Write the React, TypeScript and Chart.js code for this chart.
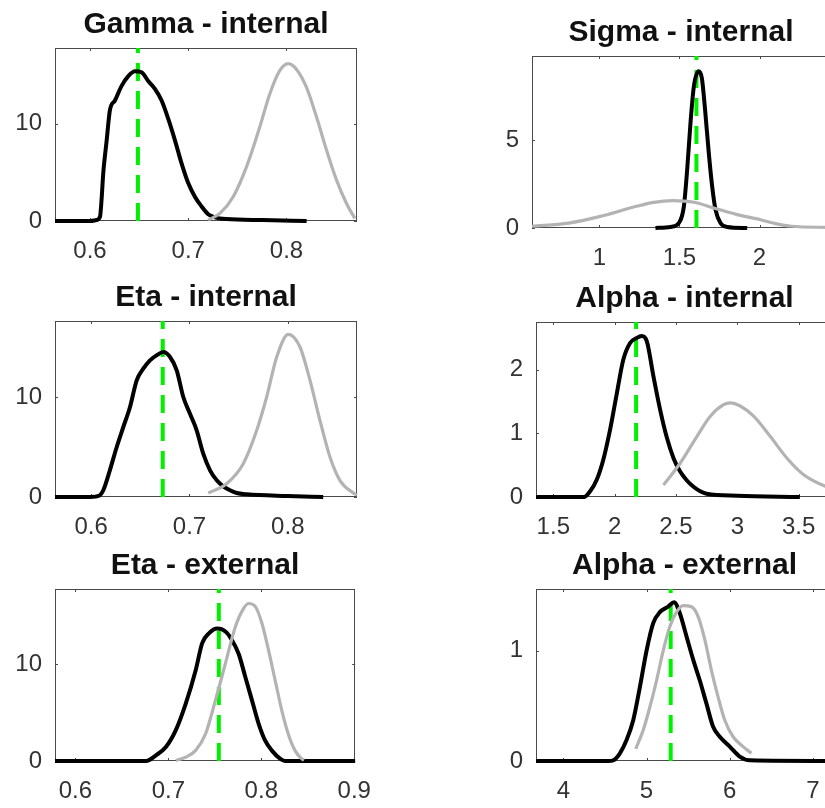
import React, { useEffect, useRef } from "react";
import { Chart, registerables } from "chart.js";

Chart.register(...registerables);

// ---- Gamma - internal ----
const gammaIntPostX = [0.5644, 0.6, 0.6065, 0.6102, 0.6118, 0.6135, 0.617, 0.6203, 0.6254, 0.6322, 0.639, 0.6458, 0.6526, 0.6593, 0.6661, 0.6729, 0.6797, 0.6865, 0.6933, 0.7, 0.7068, 0.7136, 0.7203, 0.7272, 0.739, 0.776, 0.8205];
const gammaIntPostY = [0, 0, 0.1, 0.44, 2.2, 4.9, 8.3, 11.4, 12.4, 13.9, 14.9, 15.4, 15.3, 14.4, 13.6, 12.4, 10.5, 8.3, 5.9, 3.9, 2.5, 1.5, 0.7, 0.38, 0.2, 0.1, 0];
const gammaIntPriorX = [0.7203, 0.7322, 0.7458, 0.7594, 0.7729, 0.7831, 0.7933, 0.8017, 0.8103, 0.8204, 0.8306, 0.8408, 0.851, 0.8611, 0.8696];
const gammaIntPriorY = [0.1, 0.78, 2.5, 5.6, 9.7, 13.1, 15.5, 16.2, 15.6, 13.75, 10.7, 7.3, 4.2, 1.8, 0.27];
const gammaIntTrue = 0.6488;
const gammaIntXTicks = [0.6, 0.7, 0.8];
const gammaIntYTicks = [0, 10];

// ---- Sigma - internal ----
const sigmaIntPostX = [1.35, 1.444, 1.496, 1.527, 1.548, 1.569, 1.59, 1.62, 1.64, 1.66, 1.683, 1.704, 1.725, 1.756, 1.798, 1.923];
const sigmaIntPostY = [0, 0.06, 0.28, 1.2, 3.3, 6.0, 8.05, 8.9, 8.5, 6.7, 4.26, 2.37, 1.04, 0.28, 0.06, 0];
const sigmaIntPriorX = [0.579, 0.808, 1.006, 1.214, 1.34, 1.46, 1.59, 1.714, 1.86, 2.006, 2.1, 2.2, 2.44];
const sigmaIntPriorY = [0.1, 0.28, 0.66, 1.19, 1.46, 1.55, 1.46, 1.14, 0.76, 0.47, 0.25, 0.1, 0.03];
const sigmaIntTrue = 1.606;
const sigmaIntXTicks = [1, 1.5, 2];
const sigmaIntYTicks = [0, 5];

// ---- Eta - internal ----
const etaIntPostX = [0.5632, 0.599, 0.6085, 0.6123, 0.619, 0.626, 0.6327, 0.6395, 0.6463, 0.653, 0.6598, 0.6666, 0.6733, 0.6802, 0.687, 0.6937, 0.7005, 0.7073, 0.714, 0.7209, 0.7277, 0.7344, 0.7412, 0.748, 0.7582, 0.8, 0.836];
const etaIntPostY = [0, 0, 0.15, 0.67, 2.67, 5.0, 7.0, 9.0, 11.67, 12.83, 13.67, 14.17, 14.5, 14.0, 12.67, 10.0, 8.33, 6.67, 4.33, 2.67, 1.67, 1.07, 0.67, 0.4, 0.27, 0.1, 0];
const etaIntPriorX = [0.7191, 0.7378, 0.7547, 0.7684, 0.7785, 0.7887, 0.8005, 0.8124, 0.8226, 0.8327, 0.8429, 0.853, 0.8666, 0.8704];
const etaIntPriorY = [0.4, 1.33, 3.33, 6.67, 10.0, 14.0, 16.27, 15.0, 11.67, 7.67, 4.0, 1.67, 0.4, 0.2];
const etaIntTrue = 0.6728;
const etaIntXTicks = [0.6, 0.7, 0.8];
const etaIntYTicks = [0, 10];

// ---- Alpha - internal ----
const alphaIntPostX = [1.359, 1.75, 1.8, 1.854, 1.908, 1.963, 2.018, 2.071, 2.126, 2.18, 2.22, 2.262, 2.316, 2.371, 2.426, 2.48, 2.534, 2.589, 2.643, 2.698, 2.75, 3.0, 3.51];
const alphaIntPostY = [0, 0, 0.09, 0.27, 0.59, 1.06, 1.63, 2.16, 2.42, 2.5, 2.53, 2.45, 1.9, 1.37, 0.93, 0.61, 0.4, 0.26, 0.16, 0.09, 0.05, 0.02, 0];
const alphaIntPriorX = [2.398, 2.534, 2.67, 2.78, 2.888, 2.942, 3.024, 3.133, 3.269, 3.405, 3.541, 3.718, 3.78];
const alphaIntPriorY = [0.19, 0.53, 0.95, 1.27, 1.45, 1.48, 1.43, 1.27, 0.95, 0.61, 0.35, 0.17, 0.14];
const alphaIntTrue = 2.175;
const alphaIntXTicks = [1.5, 2, 2.5, 3, 3.5];
const alphaIntYTicks = [0, 1, 2];

// ---- Eta - external ----
const etaExtPostX = [0.578, 0.676, 0.6866, 0.6973, 0.708, 0.7187, 0.7294, 0.7364, 0.7436, 0.7525, 0.7614, 0.7685, 0.7756, 0.7828, 0.7899, 0.797, 0.8042, 0.8112, 0.8202, 0.8255, 0.901];
const etaExtPostY = [0, 0, 0.59, 1.45, 3.2, 5.95, 9.4, 12.2, 13.2, 13.7, 13.4, 12.5, 11.1, 8.7, 6.3, 3.9, 2.1, 1.1, 0.24, 0, 0];
const etaExtPriorX = [0.708, 0.7187, 0.7294, 0.74, 0.7507, 0.7614, 0.7721, 0.781, 0.7863, 0.7935, 0.8005, 0.8077, 0.8148, 0.8219, 0.829, 0.8362, 0.8433, 0.846];
const etaExtPriorY = [0.05, 0.4, 1.1, 2.8, 6.3, 10.1, 13.9, 15.8, 16.3, 16.0, 14.3, 11.5, 8.4, 5.3, 2.8, 1.1, 0.24, 0.1];
const etaExtTrue = 0.7543;
const etaExtXTicks = [0.6, 0.7, 0.8, 0.9];
const etaExtYTicks = [0, 10];

// ---- Alpha - external ----
const alphaExtPostX = [3.672, 4.54, 4.6, 4.68, 4.76, 4.84, 4.92, 5.0, 5.08, 5.16, 5.26, 5.33, 5.4, 5.48, 5.56, 5.64, 5.72, 5.8, 5.88, 6.0, 6.12, 6.24, 7.24];
const alphaExtPostY = [0, 0, 0.006, 0.07, 0.19, 0.37, 0.67, 1.0, 1.25, 1.35, 1.4, 1.44, 1.34, 1.13, 0.92, 0.73, 0.52, 0.31, 0.22, 0.13, 0.04, 0.006, 0];
const alphaExtPriorX = [4.87, 4.96, 5.04, 5.12, 5.2, 5.28, 5.36, 5.44, 5.54, 5.62, 5.7, 5.78, 5.86, 5.94, 6.04, 6.16, 6.26];
const alphaExtPriorY = [0.11, 0.28, 0.49, 0.73, 1.0, 1.22, 1.35, 1.41, 1.4, 1.31, 1.1, 0.82, 0.58, 0.37, 0.22, 0.13, 0.07];
const alphaExtTrue = 5.29;
const alphaExtXTicks = [4, 5, 6, 7];
const alphaExtYTicks = [0, 1];

const FONT = '"Liberation Sans", Arial, Helvetica, sans-serif';
const GRAY = "#b3b3b3";
const GREEN = "#00f000";
const AXIS = "#4a4a4a";
const LABEL = "#333333";

const PAD_L = 60;
const PAD_T = 50;
const PAD_R = 30;
const PAD_B = 50;

type Panel = {
  title: string;
  box: [number, number, number, number];
  xMin: number;
  xMax: number;
  yMax: number;
  xTicks: number[];
  yTicks: number[];
  postX: number[];
  postY: number[];
  priorX: number[];
  priorY: number[];
  trueValue: number;
};

const panels: Panel[] = [
  { title: "Gamma - internal", box: [55, 48, 302, 173], xMin: 0.5644, xMax: 0.8718, yMax: 17.8, xTicks: gammaIntXTicks, yTicks: gammaIntYTicks, postX: gammaIntPostX, postY: gammaIntPostY, priorX: gammaIntPriorX, priorY: gammaIntPriorY, trueValue: gammaIntTrue },
  { title: "Sigma - internal", box: [532, 56, 298, 172], xMin: 0.579, xMax: 2.44, yMax: 9.77, xTicks: sigmaIntXTicks, yTicks: sigmaIntYTicks, postX: sigmaIntPostX, postY: sigmaIntPostY, priorX: sigmaIntPriorX, priorY: sigmaIntPriorY, trueValue: sigmaIntTrue },
  { title: "Eta - internal", box: [55, 321, 302, 176], xMin: 0.5632, xMax: 0.8704, yMax: 17.6, xTicks: etaIntXTicks, yTicks: etaIntYTicks, postX: etaIntPostX, postY: etaIntPostY, priorX: etaIntPriorX, priorY: etaIntPriorY, trueValue: etaIntTrue },
  { title: "Alpha - internal", box: [536, 322, 297, 175], xMin: 1.359, xMax: 3.78, yMax: 2.75, xTicks: alphaIntXTicks, yTicks: alphaIntYTicks, postX: alphaIntPostX, postY: alphaIntPostY, priorX: alphaIntPriorX, priorY: alphaIntPriorY, trueValue: alphaIntTrue },
  { title: "Eta - external", box: [55, 589, 302, 172], xMin: 0.578, xMax: 0.901, yMax: 17.8, xTicks: etaExtXTicks, yTicks: etaExtYTicks, postX: etaExtPostX, postY: etaExtPostY, priorX: etaExtPriorX, priorY: etaExtPriorY, trueValue: etaExtTrue },
  { title: "Alpha - external", box: [536, 589, 297, 172], xMin: 3.672, xMax: 7.24, yMax: 1.56, xTicks: alphaExtXTicks, yTicks: alphaExtYTicks, postX: alphaExtPostX, postY: alphaExtPostY, priorX: alphaExtPriorX, priorY: alphaExtPriorY, trueValue: alphaExtTrue },
];

const toPoints = (xs: number[], ys: number[]) => xs.map((x, i) => ({ x, y: ys[i] }));

// Axes box with inward tick marks, plus the bold title above it.
const framePlugin = {
  id: "frame",
  beforeDatasetsDraw(chart: any) {
    const { ctx, chartArea } = chart;
    const { left, top, right, bottom } = chartArea;
    const xs = chart.scales.x;
    const ys = chart.scales.y;
    ctx.save();
    ctx.strokeStyle = AXIS;
    ctx.lineWidth = 1;
    ctx.strokeRect(Math.round(left) + 0.5, Math.round(top) + 0.5, Math.round(right - left) - 1, Math.round(bottom - top) - 1);
    ctx.beginPath();
    const t = 3;
    xs.ticks.forEach((tk: any) => {
      const px = Math.round(xs.getPixelForValue(tk.value)) + 0.5;
      ctx.moveTo(px, bottom);
      ctx.lineTo(px, bottom - t);
      ctx.moveTo(px, top);
      ctx.lineTo(px, top + t);
    });
    ys.ticks.forEach((tk: any) => {
      const py = Math.round(ys.getPixelForValue(tk.value)) + 0.5;
      ctx.moveTo(left, py);
      ctx.lineTo(left + t, py);
      ctx.moveTo(right, py);
      ctx.lineTo(right - t, py);
    });
    ctx.stroke();
    ctx.restore();
  },
  afterDraw(chart: any) {
    const { ctx, chartArea } = chart;
    const title = chart.options.plugins.frame?.title ?? "";
    ctx.save();
    ctx.fillStyle = "#111111";
    ctx.font = `bold 30px ${FONT}`;
    ctx.textAlign = "center";
    ctx.textBaseline = "alphabetic";
    ctx.fillText(title, (chartArea.left + chartArea.right) / 2, chartArea.top - 15);
    ctx.restore();
  },
};

function PanelChart({ p }: { p: Panel }) {
  const ref = useRef<HTMLCanvasElement | null>(null);
  const [left, top, w, h] = p.box;
  const cw = w + PAD_L + PAD_R;
  const ch = h + PAD_T + PAD_B;

  useEffect(() => {
    if (!ref.current) return;
    const tickFont = { family: FONT, size: 24 };
    const chart = new Chart(ref.current, {
      type: "line",
      data: {
        datasets: [
          {
            data: toPoints(p.priorX, p.priorY),
            borderColor: GRAY,
            borderWidth: 3.2,
            pointRadius: 0,
            cubicInterpolationMode: "monotone",
            borderJoinStyle: "round",
            clip: false,
          },
          {
            data: toPoints(p.postX, p.postY),
            borderColor: "#000000",
            borderWidth: 4,
            pointRadius: 0,
            cubicInterpolationMode: "monotone",
            borderJoinStyle: "round",
            clip: false,
          },
          {
            data: [
              { x: p.trueValue, y: 0 },
              { x: p.trueValue, y: p.yMax },
            ],
            borderColor: GREEN,
            borderWidth: 4,
            borderDash: [18, 10],
            pointRadius: 0,
            clip: false,
          },
        ],
      } as any,
      options: {
        responsive: false,
        animation: false,
        events: [],
        layout: { padding: { left: 0, top: PAD_T, right: PAD_R, bottom: 0 } },
        plugins: {
          legend: { display: false },
          tooltip: { enabled: false },
          title: { display: false },
          frame: { title: p.title },
        } as any,
        scales: {
          x: {
            type: "linear",
            min: p.xMin,
            max: p.xMax,
            grid: { display: false, drawTicks: false },
            border: { display: false },
            afterFit: (s: any) => {
              s.height = PAD_B;
            },
            afterBuildTicks: (s: any) => {
              s.ticks = p.xTicks.map((v) => ({ value: v }));
            },
            ticks: {
              autoSkip: false,
              maxRotation: 0,
              minRotation: 0,
              padding: 16,
              color: LABEL,
              font: tickFont,
              callback: (v: any) => String(v),
            },
          },
          y: {
            type: "linear",
            min: 0,
            max: p.yMax,
            grid: { display: false, drawTicks: false },
            border: { display: false },
            afterFit: (s: any) => {
              s.width = PAD_L;
            },
            afterBuildTicks: (s: any) => {
              s.ticks = p.yTicks.map((v) => ({ value: v }));
            },
            ticks: {
              autoSkip: false,
              padding: 13,
              color: LABEL,
              font: tickFont,
              callback: (v: any) => String(v),
            },
          },
        },
      } as any,
      plugins: [framePlugin],
    });
    return () => chart.destroy();
  }, [p]);

  return (
    <canvas
      ref={ref}
      width={cw}
      height={ch}
      style={{ position: "absolute", left: left - PAD_L, top: top - PAD_T, width: cw, height: ch }}
    />
  );
}

export default function App() {
  return (
    <div
      style={{
        position: "fixed",
        left: 0,
        top: 0,
        width: 825,
        height: 808,
        overflow: "hidden",
        background: "#ffffff",
      }}
    >
      {panels.map((p) => (
        <PanelChart key={p.title} p={p} />
      ))}
    </div>
  );
}
